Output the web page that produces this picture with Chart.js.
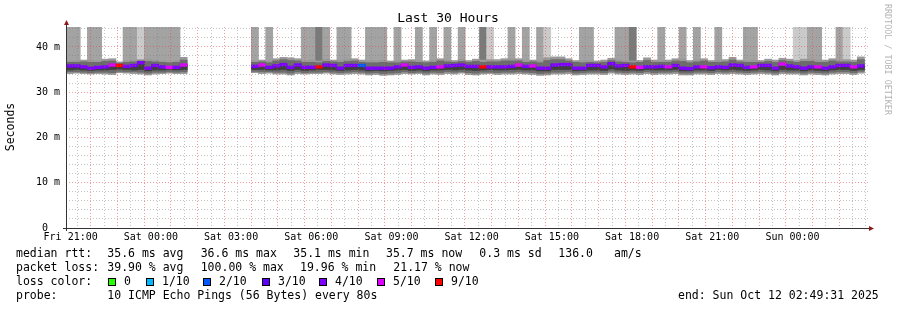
<!DOCTYPE html>
<html><head><meta charset="utf-8">
<script src="https://cdn.jsdelivr.net/npm/chart.js@4.4.1/dist/chart.umd.min.js"></script>
<style>html,body{margin:0;padding:0;background:#fff;}canvas{display:block;}</style>
</head><body>
<canvas id="c" width="897" height="310"></canvas>
<script>
// ---------- DATA (one entry per 16-minute bin, starting Fri 20:49:31) ----------
const binMinutes = 16;
const medianRtt = [35.8,35.8,35.6,35.3,35.5,35.6,36.0,35.9,35.7,35.9,36.5,35.3,35.9,35.6,35.5,35.5,36.0,
  null,null,null,null,null,null,null,null,null,
  35.7,36.0,35.5,35.8,36.1,35.5,36.0,35.5,35.5,35.6,36.0,35.9,35.3,35.9,35.9,35.9,35.3,35.3,35.3,35.3,35.6,36.0,35.5,35.6,35.3,35.5,35.6,35.8,35.9,36.0,
  35.7,35.7,35.6,35.6,35.6,35.6,35.7,36.0,35.7,35.8,35.3,35.3,36.0,36.1,36.1,35.3,35.3,35.9,35.9,35.6,36.3,35.8,35.9,35.6,35.5,35.6,35.6,35.7,
  35.6,35.9,35.3,35.2,35.6,35.6,35.4,35.6,35.5,36.0,35.9,35.5,35.6,35.9,35.9,35.3,36.2,35.8,35.6,35.3,35.6,35.6,35.3,35.6,35.9,35.9,35.6,35.8];
const lossTenths = [4,4,4,4,4,4,5,9,4,4,4,4,4,4,5,4,5,
  null,null,null,null,null,null,null,null,null,
  4,5,4,4,4,4,4,4,4,9,4,4,4,4,4,2,4,4,4,4,4,5,4,4,4,4,5,4,4,4,
  4,4,9,4,4,4,4,5,4,5,4,4,4,4,4,4,4,4,4,4,4,4,4,9,5,4,4,4,
  5,4,4,4,4,5,4,4,4,4,4,4,5,4,4,4,5,4,4,4,4,5,4,4,4,4,5,4];
// 0 none, 1 smoke to top, 2 light smoke to top, 3 dark smoke to top
const tallSmoke = [1,1,0,1,1,0,0,0,1,1,2,1,1,1,1,1,0,
  null,null,null,null,null,null,null,null,null,
  1,0,1,0,0,0,0,1,1,3,1,0,1,1,0,0,1,1,1,0,1,0,0,1,0,1,0,1,0,1,
  0,0,3,2,0,0,1,0,1,0,1,2,0,0,0,0,1,1,0,0,0,1,1,3,0,0,0,1,
  0,0,1,0,1,0,0,1,0,0,0,1,1,0,0,0,0,0,2,2,1,1,0,0,1,2,0,0];
const smokeOuterHi = [36.9,37.0,37.1,37.1,37.0,37.3,37.4,36.7,37.0,37.1,37.2,37.3,37.1,37.0,36.8,37.0,37.7,
  null,null,null,null,null,null,null,null,null,
  37.0,37.1,36.9,37.4,37.7,37.6,37.4,37.0,37.1,36.9,37.3,37.1,37.1,37.3,37.4,37.1,36.9,37.0,37.1,36.9,36.9,37.1,37.2,37.0,36.9,37.1,37.4,37.1,37.0,37.3,
  37.0,37.3,37.1,37.2,37.2,37.4,37.4,37.4,37.1,37.1,36.9,37.6,37.8,37.8,37.4,37.0,37.0,37.0,36.9,37.1,37.5,37.2,37.0,36.9,37.0,37.6,37.1,37.0,
  37.1,37.4,37.4,37.0,37.2,37.4,37.0,37.1,37.2,37.7,37.1,37.0,37.1,37.0,37.3,37.1,37.5,37.3,37.0,37.3,37.3,37.1,37.1,37.4,37.1,37.2,37.1,37.8];
const smokeOuterLo = [34.1,34.2,34.1,34.0,34.1,34.0,33.9,34.3,34.2,34.1,34.0,33.8,34.0,34.1,34.2,34.1,34.1,
  null,null,null,null,null,null,null,null,null,
  34.3,34.1,34.2,34.0,34.0,33.8,34.1,34.0,34.1,34.1,34.2,34.0,33.9,34.0,34.1,34.0,33.8,33.9,33.7,33.8,33.9,34.1,34.0,34.1,33.8,34.0,33.9,34.1,34.0,34.2,
  33.9,33.8,34.0,34.1,33.9,34.0,34.0,34.1,34.0,33.9,33.7,33.8,34.0,34.0,34.1,33.8,33.9,34.0,34.0,33.9,34.2,34.0,33.9,34.0,33.9,34.1,33.9,34.0,
  34.0,34.1,33.8,33.8,34.0,34.0,33.9,34.1,34.0,34.1,34.0,33.9,34.0,34.1,34.0,33.8,34.1,34.0,34.0,33.8,34.0,33.9,33.8,34.0,34.1,34.1,33.9,34.2];
const smokeMidHi = [36.6,36.6,36.7,36.6,36.6,36.8,36.9,36.4,36.6,36.7,36.9,36.8,36.7,36.6,36.5,36.6,37.1,
  null,null,null,null,null,null,null,null,null,
  36.6,36.7,36.5,36.9,37.2,37.0,36.9,36.6,36.6,36.5,36.8,36.7,36.6,36.8,36.9,36.6,36.5,36.5,36.6,36.5,36.5,36.7,36.7,36.6,36.5,36.6,36.9,36.7,36.6,36.8,
  36.6,36.8,36.6,36.7,36.7,36.9,36.9,36.9,36.6,36.7,36.5,37.0,37.2,37.2,36.9,36.6,36.5,36.6,36.5,36.6,37.0,36.7,36.6,36.5,36.6,37.0,36.6,36.6,
  36.6,36.9,36.8,36.5,36.7,36.9,36.6,36.6,36.7,37.1,36.7,36.6,36.6,36.6,36.8,36.6,37.0,36.8,36.6,36.8,36.8,36.6,36.6,36.9,36.7,36.7,36.6,37.2];
const smokeMidLo = [34.5,34.5,34.4,34.3,34.4,34.4,34.3,34.6,34.5,34.5,34.4,34.2,34.4,34.4,34.5,34.4,34.5,
  null,null,null,null,null,null,null,null,null,
  34.6,34.5,34.5,34.4,34.4,34.2,34.5,34.3,34.4,34.4,34.5,34.4,34.3,34.4,34.5,34.4,34.2,34.3,34.1,34.2,34.3,34.5,34.3,34.4,34.2,34.4,34.3,34.5,34.4,34.5,
  34.3,34.2,34.4,34.4,34.3,34.4,34.4,34.5,34.4,34.3,34.1,34.2,34.4,34.4,34.5,34.2,34.3,34.4,34.4,34.3,34.6,34.4,34.3,34.4,34.3,34.5,34.3,34.4,
  34.4,34.5,34.2,34.2,34.4,34.4,34.3,34.5,34.4,34.5,34.4,34.3,34.4,34.5,34.4,34.2,34.5,34.4,34.4,34.2,34.4,34.3,34.2,34.4,34.5,34.5,34.3,34.6];
const smokeInnerHi = [35.9,35.9,35.7,35.5,35.6,35.7,36.1,36.0,35.8,36.0,36.6,35.5,36.0,35.7,35.6,35.6,36.1,
  null,null,null,null,null,null,null,null,null,
  35.8,36.1,35.6,35.9,36.2,35.6,36.1,35.6,35.6,35.7,36.1,36.0,35.5,36.0,36.0,36.0,35.5,35.5,35.5,35.5,35.7,36.1,35.6,35.7,35.5,35.6,35.7,35.9,36.0,36.1,
  35.8,35.8,35.7,35.7,35.7,35.7,35.8,36.1,35.8,35.9,35.5,35.5,36.1,36.2,36.2,35.5,35.5,36.0,36.0,35.7,36.4,35.9,36.0,35.7,35.6,35.7,35.7,35.8,
  35.7,36.0,35.5,35.4,35.7,35.7,35.5,35.7,35.6,36.1,36.0,35.6,35.7,36.0,36.0,35.5,36.3,35.9,35.7,35.5,35.7,35.7,35.5,35.7,36.0,36.0,35.7,35.9];
const smokeInnerLo = [34.9,35.0,34.9,34.8,34.9,34.9,35.0,35.1,35.0,34.9,35.0,34.7,34.9,34.9,35.0,34.9,35.0,
  null,null,null,null,null,null,null,null,null,
  35.0,35.0,34.9,34.9,35.0,34.8,35.0,34.8,34.9,35.0,35.0,34.9,34.8,34.9,35.0,34.9,34.7,34.8,34.7,34.8,34.9,35.0,34.8,34.9,34.7,34.9,34.9,35.0,34.9,35.0,
  34.9,34.8,34.9,35.0,34.9,34.9,35.0,35.0,34.9,34.9,34.7,34.7,35.0,35.0,35.0,34.7,34.8,34.9,34.9,34.8,35.1,34.9,34.8,34.9,34.8,35.0,34.9,34.9,
  34.9,35.0,34.7,34.7,34.9,34.9,34.8,35.0,34.9,35.0,34.9,34.8,34.9,35.0,34.9,34.7,35.0,34.9,34.9,34.7,34.9,34.8,34.7,34.9,35.0,35.0,34.8,35.0];

// axis / tick labels
const yTickLabels = ['0  ', '10 m', '20 m', '30 m', '40 m'];
const xTickLabels = ['Fri 21:00','Sat 00:00','Sat 03:00','Sat 06:00','Sat 09:00','Sat 12:00','Sat 15:00','Sat 18:00','Sat 21:00','Sun 00:00'];
const firstHalfHourMark = 10.48 / 60; // Fri 21:00 relative to start (20:49:31)
const rangeHours = 30;
const yMax = 44.4;

// legend texts
const lossLegendLabels = ['0','1/10','2/10','3/10','4/10','5/10','9/10'];
const lossLegendColors = ['#26ff00','#00b8ff','#0059ff','#5e00ff','#7e00ff','#dd00ff','#ff0000'];
const lossColorByTenths = {0:'#26ff00',1:'#00b8ff',2:'#0059ff',3:'#5e00ff',4:'#7e00ff',5:'#dd00ff',6:'#ff0000',7:'#ff0000',8:'#ff0000',9:'#ff0000',10:'#ff0000'};
const rowMedian = [['median rtt:',16],['35.6 ms avg',107.3],['36.6 ms max',200.7],['35.1 ms min',293.3],['35.7 ms now',386],['0.3 ms sd',479.3],['136.0',558.3],['am/s',614]];
const rowLoss = [['packet loss:',16],['39.90 % avg',107.3],['100.00 % max',200.7],['19.96 % min',300],['21.17 % now',393.3]];
const rowProbe = [['probe:',16],['10 ICMP Echo Pings (56 Bytes) every 80s',107.3],['end: Sun Oct 12 02:49:31 2025',678]];

// ---------- BUILD ----------
const FONT = "'DejaVu Sans Mono','Liberation Mono',monospace";
const binH = binMinutes / 60;
const center = k => (k + 0.5) * binH;
function rangeSeries(lo, hi) {
  const out = [];
  lo.forEach((v, k) => { if (v != null && hi[k] != null) out.push({x: center(k), y: [v, hi[k]]}); });
  return out;
}
const tallColors = [null, '#a3a3a3', '#cacaca', '#7a7a7a'];
const tallPts = [], tallCols = [];
tallSmoke.forEach((t, k) => { if (t) { tallPts.push({x: center(k), y: [smokeOuterHi[k], yMax]}); tallCols.push(tallColors[t]); } });
const medPts = [], medCols = [];
medianRtt.forEach((m, k) => { if (m != null) { medPts.push({x: center(k), y: [m - 0.3, m + 0.3]}); medCols.push(lossColorByTenths[lossTenths[k]]); } });

const xGrid = [];
for (let v = firstHalfHourMark; v < rangeHours; v += 0.5) xGrid.push(v);
const yGrid = [];
for (let v = 0; v <= 44; v += 2) yGrid.push(v);

const MINOR = 'rgba(120,120,120,0.45)';
const MAJOR = 'rgba(235,70,70,0.55)';

const overlay = {
  id: 'overlay',
  beforeDraw(chart) {
    const c = chart.ctx; c.save(); c.fillStyle = '#fff'; c.fillRect(0, 0, chart.width, chart.height); c.restore();
  },
  afterDraw(chart) {
    const c = chart.ctx, a = chart.chartArea;
    c.save();
    // axes
    c.strokeStyle = '#333'; c.lineWidth = 1;
    c.beginPath();
    c.moveTo(a.left + 0.5, a.bottom + 3); c.lineTo(a.left + 0.5, a.top - 4);
    c.moveTo(a.left - 3, a.bottom + 0.5); c.lineTo(a.right + 2, a.bottom + 0.5);
    c.stroke();
    c.fillStyle = '#8e1b1b';
    c.beginPath(); c.moveTo(a.left - 2, a.top - 2); c.lineTo(a.left + 3, a.top - 2); c.lineTo(a.left + 0.5, a.top - 7); c.closePath(); c.fill();
    c.beginPath(); c.moveTo(a.right + 1, a.bottom - 2); c.lineTo(a.right + 1, a.bottom + 3); c.lineTo(a.right + 6, a.bottom + 0.5); c.closePath(); c.fill();
    // title
    c.fillStyle = '#000'; c.textBaseline = 'middle';
    c.font = '13px ' + FONT; c.textAlign = 'center';
    c.fillText('Last 30 Hours', 448, 19);
    // y title
    c.save(); c.translate(11, 127); c.rotate(-Math.PI / 2);
    c.font = '11.5px ' + FONT; c.fillText('Seconds', 0, 0); c.restore();
    // watermark
    c.save(); c.translate(887, 4); c.rotate(Math.PI / 2);
    c.font = '8.4px ' + FONT; c.fillStyle = '#b4b4b4'; c.textAlign = 'left';
    c.fillText('RRDTOOL / TOBI OETIKER', 0, 0); c.restore();
    // legend
    c.font = '11.5px ' + FONT; c.textAlign = 'left'; c.fillStyle = '#000';
    rowMedian.forEach(([t, x]) => c.fillText(t, x, 254.3));
    rowLoss.forEach(([t, x]) => c.fillText(t, x, 268.3));
    c.fillText('loss color:', 16, 282.3);
    const boxX = [108, 146, 203, 262, 319, 377, 435];
    lossLegendLabels.forEach((lab, i) => {
      c.fillStyle = lossLegendColors[i]; c.fillRect(boxX[i] + 0.5, 278.5, 7, 7);
      c.strokeStyle = '#000'; c.strokeRect(boxX[i] + 0.5, 278.5, 7, 7);
      c.fillStyle = '#000'; c.fillText(lab, boxX[i] + 16, 282.3);
    });
    rowProbe.forEach(([t, x]) => c.fillText(t, x, 296.3));
    c.restore();
  }
};

new Chart(document.getElementById('c'), {
  type: 'bar',
  data: { datasets: [
    { label: 'median', data: medPts, backgroundColor: medCols, order: 0 },
    { label: 'inner', data: rangeSeries(smokeInnerLo, smokeInnerHi), backgroundColor: '#3e3e3e', order: 1 },
    { label: 'mid', data: rangeSeries(smokeMidLo, smokeMidHi), backgroundColor: '#6c6c6c', order: 2 },
    { label: 'outer', data: rangeSeries(smokeOuterLo, smokeOuterHi), backgroundColor: '#999999', order: 3 },
    { label: 'tall', data: tallPts, backgroundColor: tallCols, order: 4 }
  ]},
  options: {
    responsive: false, animation: false, devicePixelRatio: 1,
    layout: { padding: { top: 27, right: 29, bottom: 62, left: 0 } },
    plugins: { legend: { display: false }, tooltip: { enabled: false }, title: { display: false } },
    datasets: { bar: { grouped: false, barPercentage: 1, categoryPercentage: 1, borderWidth: 0 } },
    scales: {
      x: {
        type: 'linear', min: 0, max: rangeHours, offset: false,
        afterBuildTicks: s => { s.ticks = xGrid.map(v => ({ value: v })); },
        afterFit: s => { s.height = 20; },
        ticks: { autoSkip: false, maxRotation: 0, minRotation: 0, padding: 3, color: '#000',
          font: { family: FONT, size: 10 },
          callback: (v, i) => (i % 6 === 0 ? xTickLabels[i / 6] : '') },
        grid: { drawTicks: false, lineWidth: 1, z: 1, color: c => (c.index % 2 === 0 ? MAJOR : MINOR) },
        border: { display: false, dash: [1, 2] }
      },
      y: {
        type: 'linear', min: 0, max: yMax,
        afterBuildTicks: s => { s.ticks = yGrid.map(v => ({ value: v })); },
        afterFit: s => { s.width = 66; },
        ticks: { autoSkip: false, padding: 6, color: '#000', font: { family: FONT, size: 10 },
          callback: v => (v % 10 === 0 ? yTickLabels[v / 10] : '') },
        grid: { drawTicks: false, lineWidth: 1, z: 1, color: c => (c.tick && c.tick.value % 10 === 0 ? MAJOR : MINOR) },
        border: { display: false, dash: [1, 2] }
      }
    }
  },
  plugins: [overlay]
});
</script>
</body></html>
